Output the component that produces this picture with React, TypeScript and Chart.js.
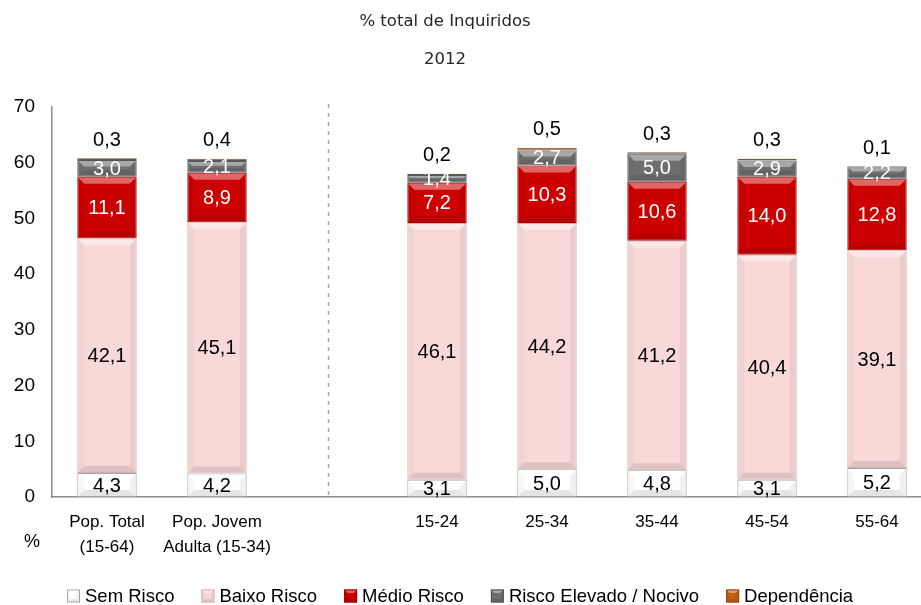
import React, { useEffect, useRef } from 'react';
import { Chart, registerables } from 'chart.js';

Chart.register(...registerables);

// ---- data ----
const categories: (string | string[])[] = [
  ['Pop. Total', '(15-64)'],
  ['Pop. Jovem', 'Adulta (15-34)'],
  '',
  '15-24',
  '25-34',
  '35-44',
  '45-54',
  '55-64',
];
const semRisco = [4.3, 4.2, null, 3.1, 5.0, 4.8, 3.1, 5.2];
const baixoRisco = [42.1, 45.1, null, 46.1, 44.2, 41.2, 40.4, 39.1];
const medioRisco = [11.1, 8.9, null, 7.2, 10.3, 10.6, 14.0, 12.8];
const riscoElevado = [3.0, 2.1, null, 1.4, 2.7, 5.0, 2.9, 2.2];
const dependencia = [0.3, 0.4, null, 0.2, 0.5, 0.3, 0.3, 0.1];
const seriesNames = ['Sem Risco', 'Baixo Risco', 'Médio Risco', 'Risco Elevado / Nocivo', 'Dependência'];
const yMin = 0;
const yMax = 70;
const yStep = 10;
const titleText = '% total de Inquiridos';
const subtitleText = '2012';
const yUnitText = '%';
const separatorIndex = 2;

// ---- styles ----
const fills = ['#ffffff', '#f8d9d8', '#cc0000', '#6f6f6f', '#c0601a'];
const borders = ['#a6a6a6', '#d0b0b0', '#a00000', '#555555', '#6a5a4a'];
const labelColors = ['#000000', '#000000', '#ffffff', '#ffffff', '#000000'];
const NARROW = '"Liberation Sans Narrow", "Liberation Sans", sans-serif';
const SANS = '"Liberation Sans", Arial, sans-serif';

function fmt(v: number) {
  return v.toFixed(1).replace('.', ',');
}

function bevel(ctx: CanvasRenderingContext2D, l: number, t: number, r: number, b: number, dMax: number) {
  const h = b - t;
  const w = r - l;
  const d = Math.max(0, Math.min(dMax, h / 2.5, w / 3));
  if (d <= 0.8) return;
  ctx.save();
  ctx.fillStyle = 'rgba(255,255,255,0.4)';
  ctx.beginPath();
  ctx.moveTo(l + 1, t + 1); ctx.lineTo(r - 1, t + 1); ctx.lineTo(r - d, t + d); ctx.lineTo(l + d, t + d); ctx.closePath();
  ctx.fill();
  ctx.fillStyle = 'rgba(0,0,0,0.1)';
  ctx.beginPath();
  ctx.moveTo(l + 1, b - 1); ctx.lineTo(r - 1, b - 1); ctx.lineTo(r - d, b - d); ctx.lineTo(l + d, b - d); ctx.closePath();
  ctx.fill();
  ctx.fillStyle = 'rgba(0,0,0,0.03)';
  ctx.beginPath();
  ctx.moveTo(l + 1, t + 1); ctx.lineTo(l + d, t + d); ctx.lineTo(l + d, b - d); ctx.lineTo(l + 1, b - 1); ctx.closePath();
  ctx.fill();
  ctx.fillStyle = 'rgba(0,0,0,0.06)';
  ctx.beginPath();
  ctx.moveTo(r - 1, t + 1); ctx.lineTo(r - d, t + d); ctx.lineTo(r - d, b - d); ctx.lineTo(r - 1, b - 1); ctx.closePath();
  ctx.fill();
  ctx.restore();
}

const decorPlugin = {
  id: 'decor',
  beforeDatasetsDraw(chart: any) {
    const { ctx, chartArea, scales } = chart;
    const x = scales.x.getPixelForValue(separatorIndex) + 1.5;
    ctx.save();
    ctx.strokeStyle = '#a6a6a6';
    ctx.lineWidth = 1.5;
    ctx.setLineDash([4, 5]);
    ctx.beginPath();
    ctx.moveTo(x, chartArea.top - 3);
    ctx.lineTo(x, chartArea.bottom);
    ctx.stroke();
    ctx.restore();
  },
  afterDatasetsDraw(chart: any) {
    const { ctx } = chart;
    chart.data.datasets.forEach((ds: any, di: number) => {
      const meta = chart.getDatasetMeta(di);
      meta.data.forEach((el: any, i: number) => {
        const v = ds.data[i];
        if (v == null) return;
        const l = el.x - el.width / 2;
        const r = el.x + el.width / 2;
        const t = Math.min(el.y, el.base);
        const b = Math.max(el.y, el.base);
        bevel(ctx, l, t, r, b, 7);
      });
    });
    ctx.save();
    ctx.textAlign = 'center';
    ctx.textBaseline = 'middle';
    ctx.font = '20px ' + SANS;
    chart.data.datasets.forEach((ds: any, di: number) => {
      const meta = chart.getDatasetMeta(di);
      meta.data.forEach((el: any, i: number) => {
        const v = ds.data[i];
        if (v == null) return;
        ctx.fillStyle = labelColors[di];
        if (di === 4) {
          const top = Math.min(el.y, el.base);
          ctx.fillText(fmt(v), el.x, top - 18);
        } else {
          ctx.fillText(fmt(v), el.x, (el.y + el.base) / 2 + 1);
        }
      });
    });
    ctx.restore();
  },
  afterDraw(chart: any) {
    const { ctx } = chart;
    ctx.save();
    ctx.fillStyle = '#262626';
    ctx.textAlign = 'center';
    ctx.textBaseline = 'middle';
    ctx.font = '16.5px "DejaVu Sans", sans-serif';
    ctx.fillText(titleText, 445, 22);
    ctx.fillText(subtitleText, 445, 60);
    ctx.fillStyle = '#000000';
    ctx.font = '18px ' + NARROW;
    ctx.fillText(yUnitText, 32, 542);
    // legend
    ctx.textAlign = 'left';
    let x = 67;
    const cy = 596;
    const box = 13;
    seriesNames.forEach((name, i) => {
      ctx.fillStyle = fills[i];
      ctx.fillRect(x, cy - box / 2, box, box);
      ctx.strokeStyle = i === 4 ? '#9c4510' : borders[i];
      ctx.lineWidth = 1;
      ctx.strokeRect(x + 0.5, cy - box / 2 + 0.5, box - 1, box - 1);
      bevel(ctx, x, cy - box / 2, x + box, cy + box / 2, 3.5);
      ctx.fillStyle = '#000000';
      ctx.font = '18.5px ' + SANS;
      const tx = x + box + 5;
      ctx.fillText(name, tx, cy + 1);
      x = tx + ctx.measureText(name).width + 27;
    });
    ctx.restore();
  },
};

export default function App() {
  const ref = useRef<HTMLCanvasElement | null>(null);
  useEffect(() => {
    if (!ref.current) return;
    const seriesData = [semRisco, baixoRisco, medioRisco, riscoElevado, dependencia];
    const chart = new Chart(ref.current, {
      type: 'bar',
      data: {
        labels: categories,
        datasets: seriesNames.map((name, i) => ({
          label: name,
          data: seriesData[i] as any,
          backgroundColor: fills[i],
          borderColor: borders[i],
          borderWidth: 1,
          borderSkipped: false,
          barPercentage: 0.54,
          categoryPercentage: 1,
        })),
      },
      options: {
        responsive: false,
        maintainAspectRatio: false,
        animation: false,
        layout: { padding: { top: 107, right: 8, bottom: 0, left: 0 } },
        plugins: {
          legend: { display: false },
          title: { display: false },
          tooltip: { enabled: false },
        },
        scales: {
          x: {
            stacked: true,
            grid: { display: false, drawTicks: false },
            border: { display: true, color: '#8c8c8c', width: 1.5 },
            ticks: {
              autoSkip: false,
              maxRotation: 0,
              padding: 13,
              color: '#000000',
              font: { family: NARROW, size: 17, lineHeight: 1.45 },
            },
            afterFit: (s: any) => { s.height = 108; },
          },
          y: {
            stacked: true,
            min: yMin,
            max: yMax,
            grid: { display: false, drawTicks: false },
            border: { display: true, color: '#8c8c8c', width: 1.5 },
            ticks: {
              stepSize: yStep,
              padding: 17,
              color: '#000000',
              font: { family: SANS, size: 19 },
            },
            afterFit: (s: any) => { s.width = 52; },
          },
        },
      },
      plugins: [decorPlugin],
    });
    return () => chart.destroy();
  }, []);
  return (
    <div style={{ position: 'fixed', left: 0, top: 0, width: 921, height: 605, overflow: 'hidden', background: '#ffffff' }}>
      <canvas ref={ref} width={940} height={605} style={{ display: 'block', width: 940, height: 605 }} />
    </div>
  );
}
